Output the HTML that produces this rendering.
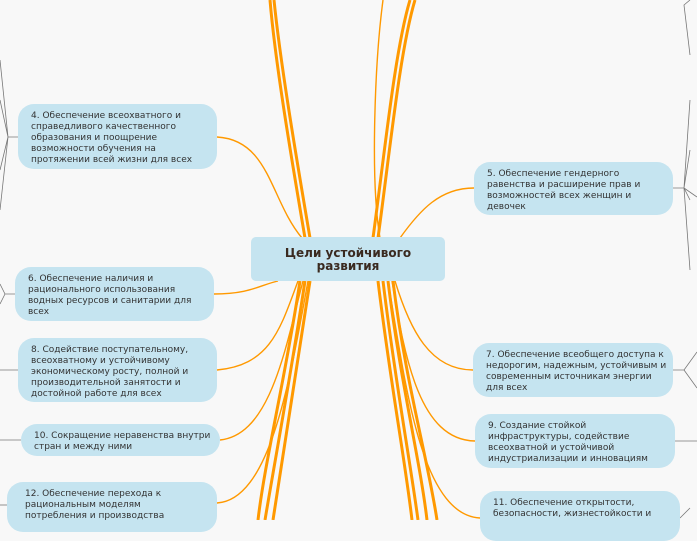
<!DOCTYPE html>
<html><head><meta charset="utf-8"><style>
body{margin:0;width:697px;height:520px;overflow:hidden;background:#f8f8f8;position:relative;font-family:"DejaVu Sans","Liberation Sans",sans-serif}
svg{position:absolute;left:0;top:0}
.n{position:absolute;background:#c5e4f0;border-radius:16px;font-size:9px;line-height:11px;color:#333;box-sizing:border-box;padding:7px 4px 0 13px}
.c{position:absolute;left:251px;top:237px;width:194px;height:44px;background:#c5e4f0;border-radius:5px;text-align:center;font-weight:bold;font-size:12px;line-height:13px;color:#3a2a20;padding-top:10px;box-sizing:border-box}
</style></head><body>
<svg width="697" height="520" fill="none">
<g stroke="#ff9900" stroke-width="3">
<path d="M305 238 C290 150 275 60 270 0"/>
<path d="M310 238 C295 150 280 60 274 0"/>
<path d="M373 238 C385 150 395 50 410 0"/>
<path d="M378 238 C390 150 400 50 415 0"/>
<path d="M300 281 C285 380 265 460 258 520"/>
<path d="M305 281 C290 380 275 460 265 520"/>
<path d="M310 281 C295 380 282 460 273 520"/>
<path d="M378 281 C390 380 405 460 412 520"/>
<path d="M383 281 C395 380 410 460 418 520"/>
<path d="M388 281 C400 380 420 460 427 520"/>
<path d="M393 281 C405 380 428 460 437 520"/>
</g>
<g stroke="#ff9900" stroke-width="1.4">
<path d="M383 0 C375 60 370 180 380 238"/>
<path d="M217 137 C270 140 270 200 302 238"/>
<path d="M400 238 C420 210 440 188 474 188"/>
<path d="M214 294 C250 294 260 285 278 281"/>
<path d="M217 370 C270 365 280 330 298 281"/>
<path d="M220 440 C270 435 285 350 303 281"/>
<path d="M217 503 C270 500 290 380 308 281"/>
<path d="M473 370 C430 370 410 330 395 281"/>
<path d="M475 441 C420 440 405 360 392 281"/>
<path d="M480 518 C420 515 405 380 388 281"/>
</g>
<g stroke="#777" stroke-width="0.8">
<path d="M18 137 L8 137 L0 60 M8 137 L0 210 M8 137 L0 170 M8 137 L0 100"/>
<path d="M15 294 L5 294 L0 284 M5 294 L0 304"/>
<path d="M18 370 L0 370"/><path d="M21 440 L0 440"/><path d="M7 505 L0 505"/>
<path d="M673 188 L684 188 L690 100 M684 188 L690 150 M684 188 L690 200 M684 188 L690 270 M684 188 L697 197"/>
<path d="M690 0 L684 5 L690 55"/>
<path d="M673 370 L684 370 L697 352 M684 370 L697 388"/>
<path d="M675 441 L697 441"/><path d="M680 518 L690 508"/>
</g>
</svg>
<div class="c">Цели устойчивого<br>развития</div>
<div class="n" style="left:18px;top:104px;width:199px;height:65px">4. Обеспечение всеохватного и справедливого качественного образования и поощрение возможности обучения на протяжении всей жизни для всех</div>
<div class="n" style="left:474px;top:162px;width:199px;height:53px">5. Обеспечение гендерного равенства и расширение прав и возможностей всех женщин и девочек</div>
<div class="n" style="left:15px;top:267px;width:199px;height:54px">6. Обеспечение наличия и рационального использования водных ресурсов и санитарии для всех</div>
<div class="n" style="left:18px;top:338px;width:199px;height:64px">8. Содействие поступательному, всеохватному и устойчивому экономическому росту, полной и производительной занятости и достойной работе для всех</div>
<div class="n" style="left:21px;top:424px;width:199px;height:32px;padding-right:2px">10. Сокращение неравенства внутри стран и между ними</div>
<div class="n" style="left:7px;top:482px;width:210px;height:50px;padding-left:18px;padding-right:50px">12. Обеспечение перехода к рациональным моделям потребления и производства</div>
<div class="n" style="left:473px;top:343px;width:200px;height:54px;padding-right:2px">7. Обеспечение всеобщего доступа к недорогим, надежным, устойчивым и современным источникам энергии для всех</div>
<div class="n" style="left:475px;top:414px;width:200px;height:54px">9. Создание стойкой инфраструктуры, содействие всеохватной и устойчивой индустриализации и инновациям</div>
<div class="n" style="left:480px;top:491px;width:200px;height:50px">11. Обеспечение открытости, безопасности, жизнестойкости и</div>
</body></html>
